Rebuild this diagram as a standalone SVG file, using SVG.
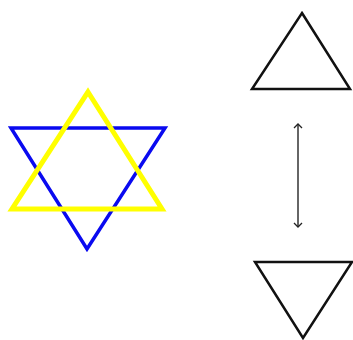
<svg xmlns="http://www.w3.org/2000/svg" width="353" height="340" viewBox="0 0 353 340">
<style>
.tri{fill:none;stroke-linejoin:miter}
.blk{stroke:#111;stroke-width:2.5}
</style>
<defs>
<marker id="ah" markerWidth="10" markerHeight="10" refX="5" refY="5" orient="auto-start-reverse" markerUnits="userSpaceOnUse">
<path d="M1,1 L5,5 L1,9" fill="none" stroke="#222" stroke-width="1.3"/>
</marker>
</defs>
<rect width="353" height="340" fill="#fff"/>
<g id="star">
<polygon class="tri" points="11,128 165,128 87,249" stroke="#0a0af0" stroke-width="3.5"/>
<polygon class="tri" points="88,92 162,209 12,209" stroke="#ffff00" stroke-width="5"/>
</g>
<g id="triangle-up">
<polygon class="tri blk" points="302,13 350,89 252,89"/>
</g>
<g id="triangle-down">
<polygon class="tri blk" points="255,262 352,262 303,338"/>
</g>
<g id="connectors">
<line x1="298" y1="124" x2="298" y2="227" stroke="#333" stroke-width="1.5" marker-start="url(#ah)" marker-end="url(#ah)"/>
</g>
</svg>
